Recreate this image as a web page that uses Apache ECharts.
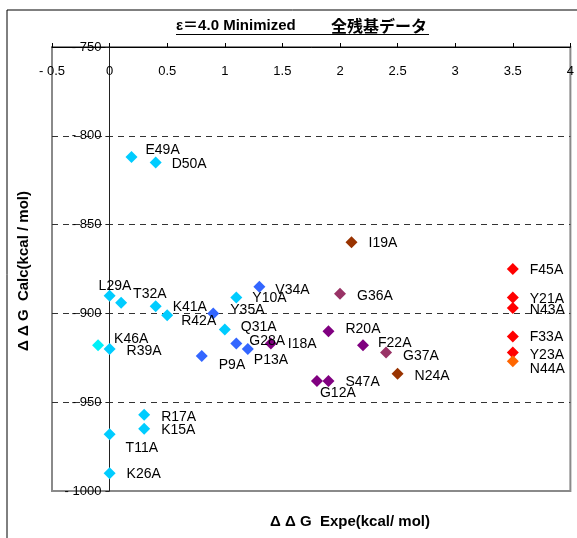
<!DOCTYPE html>
<html>
<head>
<meta charset="utf-8">
<script src="https://cdn.jsdelivr.net/npm/echarts@6.0.0/dist/echarts.min.js"></script>
<style>
  html, body { margin: 0; padding: 0; background: #fff; }
  #chart { width: 577px; height: 538px; }
</style>
</head>
<body>
<div id="chart"></div>
<script>
// 各グループの点 [ΔΔG Expe, ΔΔG Calc, 残基名]
const cyanPoints = [
  [0.19, -812, "E49A"], [0.4, -815, "D50A"], [0, -890, "L29A"], [0.1, -894, "T32A"],
  [0.4, -896, "K41A"], [0.5, -901, "R42A"], [1.1, -891, "Y10A"], [1.0, -909, "Q31A"],
  [0, -920, "R39A"], [0.3, -957, "R17A"], [0.3, -965, "K15A"], [0, -968, "T11A"],
  [0, -990, "K26A"]
];
const aquaPoints = [[-0.1, -918, "K46A"]];
const bluePoints = [
  [0.9, -900, "Y35A"], [1.3, -885, "V34A"], [1.1, -917, "G28A"], [1.2, -920, "P13A"],
  [0.8, -924, "P9A"]
];
const purplePoints = [
  [1.4, -917, "I18A"], [1.9, -910, "R20A"], [2.2, -918, "F22A"], [1.8, -938, "G12A"],
  [1.9, -938, "S47A"]
];
const plumPoints = [[2.0, -889, "G36A"], [2.4, -922, "G37A"]];
const brownPoints = [[2.1, -860, "I19A"], [2.5, -934, "N24A"]];
const redPoints = [
  [3.5, -875, "F45A"], [3.5, -891, "Y21A"], [3.5, -897, "N43A"], [3.5, -913, "F33A"],
  [3.5, -922, "Y23A"]
];
const orangePoints = [[3.5, -927, "N44A"]];

const xTicks = [-0.5, 0, 0.5, 1, 1.5, 2, 2.5, 3, 3.5, 4];
const yTicks = [-1000, -950, -900, -850, -800, -750];

const titleLatin = "ε＝4.0 Minimized";
const titleJa = "全残基データ";
const xName = "Δ Δ G  Expe(kcal/ mol)";
const yName = "Δ Δ G  Calc(kcal / mol)";

// ラベルの位置調整（手で動かしてあるもの）
const labelOffsets = {
  E49A: [-3, -7], D50A: [-1, 2], L29A: [-28, -9], T32A: [-5, -9], K41A: [0, 1],
  R42A: [-3, 6], Y35A: [0, -3], Y10A: [-1, 1], V34A: [-1, 3], Q31A: [-1, -2],
  G28A: [-4, -2], P13A: [-11, 11], P9A: [0, 9], K46A: [-1, -6], R39A: [0, 2],
  F22A: [-2, -2], R20A: [0, -2], G37A: [0, 4], N44A: [0, 8], G12A: [-14, 12],
  T11A: [-1, 14], Y23A: [0, 3], G36A: [0, 2], Y21A: [0, 2], N43A: [0, 2],
  N24A: [0, 2], R17A: [0, 3]
};

const FONT = "'Liberation Sans', 'Noto Sans CJK JP', sans-serif";
// 負の数は「- 850」のように表示されている
const tickFmt = (v) => (v < 0 ? "- " + Math.abs(v) : String(v));

const makeSeries = (points, color) => ({
  type: "scatter",
  symbol: "diamond",
  symbolSize: 12,
  itemStyle: { color: color, opacity: 1 },
  label: {
    show: true,
    position: "right",
    distance: 11,
    color: "#000",
    fontSize: 14,
    fontFamily: FONT,
    formatter: (p) => p.name
  },
  data: points.map((p) => ({
    value: [p[0], p[1]],
    name: p[2],
    label: { offset: labelOffsets[p[2]] || [0, 1] }
  }))
});

const chart = echarts.init(document.getElementById("chart"));
chart.setOption({
  animation: false,
  backgroundColor: "#fff",
  textStyle: { fontFamily: FONT },
  grid: {
    left: 52, right: 6, top: 47, bottom: 47,
    show: true, borderColor: "#8a8a8a", borderWidth: 2
  },
  xAxis: {
    type: "value",
    position: "top",
    min: xTicks[0],
    max: xTicks[xTicks.length - 1],
    interval: 0.5,
    axisLine: { onZero: false, lineStyle: { color: "#000", width: 1 } },
    axisTick: { show: true, inside: false, length: 4, lineStyle: { color: "#000" } },
    axisLabel: {
      inside: true, margin: 18, color: "#000", fontSize: 13, fontFamily: FONT,
      showMinLabel: true, showMaxLabel: true, formatter: tickFmt
    },
    splitLine: { show: false }
  },
  yAxis: {
    type: "value",
    min: yTicks[0],
    max: yTicks[yTicks.length - 1],
    interval: 50,
    // x = 0 の位置まで軸ごと移動
    offset: -57.4,
    axisLine: { onZero: false, lineStyle: { color: "#222", width: 1 } },
    axisTick: { show: true, inside: false, length: 4, lineStyle: { color: "#222" } },
    axisLabel: { margin: 8, color: "#000", fontSize: 13, fontFamily: FONT, formatter: tickFmt },
    splitLine: {
      show: true, showMinLine: false, showMaxLine: false,
      lineStyle: { color: "#333", width: 1, type: [6, 5] }
    }
  },
  graphic: [
    {
      type: "rect", silent: true, z: -1,
      shape: { x: 7, y: 10, width: 700, height: 700 },
      style: { fill: null, stroke: "#000", lineWidth: 1 }
    },
    {
      type: "text", x: 176, y: 26,
      style: {
        text: titleLatin, fill: "#000", font: "bold 15px " + FONT,
        align: "left", verticalAlign: "middle"
      }
    },
    {
      type: "text", x: 331, y: 26,
      style: {
        text: titleJa, fill: "#000", font: "bold 16px 'Noto Sans CJK JP', sans-serif",
        align: "left", verticalAlign: "middle"
      }
    },
    {
      type: "line", shape: { x1: 176, y1: 34.5, x2: 429, y2: 34.5 },
      style: { stroke: "#000", lineWidth: 1 }
    },
    {
      type: "text", x: 350, y: 522,
      style: {
        text: xName, fill: "#000", font: "bold 15px " + FONT,
        align: "center", verticalAlign: "middle"
      }
    },
    {
      type: "text", x: 24, y: 271, rotation: Math.PI / 2,
      style: {
        text: yName, fill: "#000", font: "bold 15px " + FONT,
        align: "center", verticalAlign: "middle"
      }
    }
  ],
  series: [
    makeSeries(cyanPoints, "#00ccff"),
    makeSeries(aquaPoints, "#00f0f8"),
    makeSeries(bluePoints, "#3366ff"),
    makeSeries(purplePoints, "#800080"),
    makeSeries(plumPoints, "#993366"),
    makeSeries(brownPoints, "#993300"),
    makeSeries(redPoints, "#ff0000"),
    makeSeries(orangePoints, "#ff6600")
  ]
});
</script>
</body>
</html>
